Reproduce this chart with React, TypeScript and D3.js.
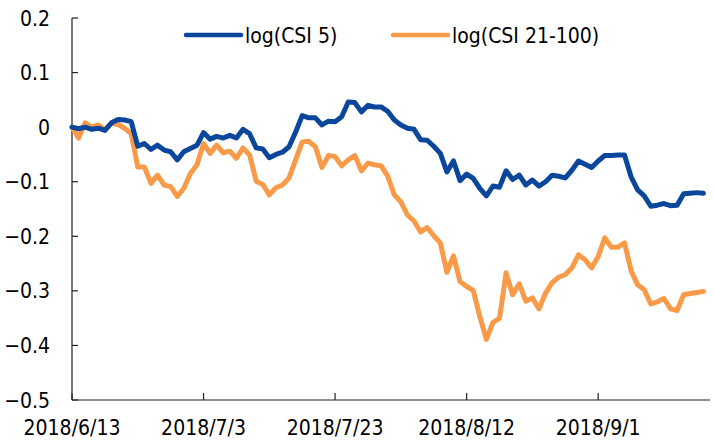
import React from "react";
import * as d3 from "d3";

// daily observations, 2018/6/13 .. 2018/9/17
const startDate = new Date(2018, 5, 13);
const endDate = new Date(2018, 8, 18);
const dates = d3.timeDay.range(startDate, endDate);

const csi5 = [
  0, -0.003, 0.0, -0.004, -0.002, -0.006, 0.008, 0.014, 0.013, 0.01,
  -0.035, -0.03, -0.041, -0.033, -0.042, -0.045, -0.06, -0.045, -0.039, -0.033,
  -0.01, -0.022, -0.017, -0.02, -0.015, -0.02, -0.004, -0.012, -0.038, -0.04,
  -0.056, -0.05, -0.046, -0.036, -0.009, 0.021, 0.017, 0.017, 0.004, 0.011,
  0.01, 0.019, 0.046, 0.045, 0.028, 0.04, 0.037, 0.037, 0.029, 0.013,
  0.004, -0.002, -0.004, -0.023, -0.024, -0.035, -0.048, -0.082, -0.062, -0.098,
  -0.086, -0.094, -0.112, -0.126, -0.108, -0.11, -0.08, -0.096, -0.088, -0.106,
  -0.097, -0.108, -0.1, -0.088, -0.09, -0.093, -0.079, -0.062, -0.068, -0.074,
  -0.062, -0.052, -0.052, -0.051, -0.051, -0.091, -0.115, -0.126, -0.145, -0.143,
  -0.14, -0.144, -0.143, -0.122, -0.121, -0.12, -0.121,
];

const csi21100 = [
  0, -0.02, 0.008, 0.0, 0.004, -0.005, 0.007, 0.005, -0.002, -0.012,
  -0.073, -0.073, -0.103, -0.088, -0.106, -0.109, -0.127, -0.112, -0.085, -0.069,
  -0.03, -0.048, -0.033, -0.047, -0.044, -0.057, -0.038, -0.051, -0.099, -0.105,
  -0.124, -0.111, -0.106, -0.093, -0.06, -0.027, -0.026, -0.036, -0.074, -0.052,
  -0.054, -0.071, -0.06, -0.052, -0.08, -0.066, -0.069, -0.071, -0.09, -0.124,
  -0.137, -0.161, -0.172, -0.192, -0.184, -0.199, -0.212, -0.266, -0.236, -0.283,
  -0.292, -0.299, -0.347, -0.389, -0.358, -0.35, -0.267, -0.307, -0.287, -0.319,
  -0.313, -0.333, -0.304, -0.285, -0.275, -0.27, -0.258, -0.234, -0.243, -0.258,
  -0.237, -0.203, -0.22, -0.22, -0.212, -0.263, -0.289, -0.298, -0.324, -0.32,
  -0.314, -0.333, -0.336, -0.307, -0.305, -0.303, -0.301,
];

const seriesNames = ["log(CSI 5)", "log(CSI 21-100)"];
const seriesColors = ["#0A479C", "#F89A48"];

const xTickDates = [
  new Date(2018, 5, 13),
  new Date(2018, 6, 3),
  new Date(2018, 6, 23),
  new Date(2018, 7, 12),
  new Date(2018, 8, 1),
];
const yTicks = [0.2, 0.1, 0, -0.1, -0.2, -0.3, -0.4, -0.5];

const W = 714;
const H = 441;
const font = "'DejaVu Sans Condensed', 'DejaVu Sans', sans-serif";

export default function App() {
  const x = d3.scaleTime().domain([startDate, endDate]).range([72, 710]);
  const y = d3.scaleLinear().domain([-0.5, 0.2]).range([400, 18]);

  const line = d3
    .line<number>()
    .x((_, i) => x(dates[i]))
    .y((d) => y(d));

  const fmtDate = d3.timeFormat("%Y/%-m/%-d");
  const fmtY = (v: number) => (v === 0 ? "0" : d3.format(".1f")(v));

  const series = [csi5, csi21100];

  return (
    <svg
      width={W}
      height={H}
      style={{ position: "absolute", left: 0, top: 0, background: "#fff" }}
      fontFamily={font}
      fontStretch="condensed"
    >
      {/* y axis */}
      <line x1={72} x2={72} y1={y(0.2)} y2={y(-0.5)} stroke="#222" strokeWidth={1.2} />
      {yTicks.map((t) => (
        <g key={t}>
          <line x1={72} x2={78} y1={y(t)} y2={y(t)} stroke="#222" strokeWidth={1.2} />
          <text x={50} y={y(t)} dy="0.36em" textAnchor="end" fontSize={21} fill="#000">
            {fmtY(t)}
          </text>
        </g>
      ))}

      {/* x axis */}
      <line x1={72} x2={710} y1={y(-0.5)} y2={y(-0.5)} stroke="#222" strokeWidth={1.2} />
      {xTickDates.map((d, i) => (
        <g key={i}>
          <line x1={x(d)} x2={x(d)} y1={y(-0.5)} y2={y(-0.5) - 7} stroke="#222" strokeWidth={1.2} />
          <text x={x(d)} y={435} textAnchor="middle" fontSize={21} fill="#000">
            {fmtDate(d)}
          </text>
        </g>
      ))}

      {/* lines: orange under blue */}
      {[1, 0].map((k) => (
        <path
          key={k}
          d={line(series[k]) || ""}
          fill="none"
          stroke={seriesColors[k]}
          strokeWidth={5}
          strokeLinejoin="round"
          strokeLinecap="round"
        />
      ))}

      {/* legend */}
      {seriesNames.map((name, i) => {
        const lx = i === 0 ? 186 : 393;
        return (
          <g key={name}>
            <line x1={lx} x2={lx + 55} y1={35} y2={35} stroke={seriesColors[i]} strokeWidth={4.5} strokeLinecap="round" />
            <text x={lx + 59} y={35} dy="0.36em" fontSize={21} fill="#000">
              {name}
            </text>
          </g>
        );
      })}
    </svg>
  );
}
